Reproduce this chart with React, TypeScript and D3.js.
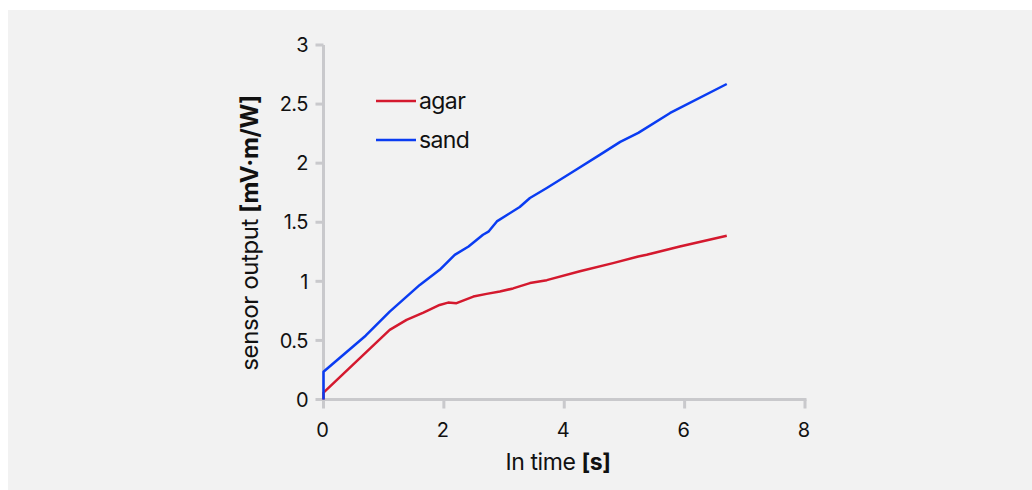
import React from "react";
import * as d3 from "d3";

const agarTime = [0, 0, 1.1, 1.38, 1.66, 1.93, 2.07, 2.21, 2.49, 2.71, 2.93, 3.15, 3.43, 3.71, 4.26, 4.81, 5.23, 5.37, 5.92, 6.7];
const agarValue = [0, 0.058, 0.589, 0.674, 0.736, 0.8, 0.82, 0.815, 0.871, 0.894, 0.914, 0.94, 0.985, 1.01, 1.085, 1.154, 1.21, 1.225, 1.295, 1.386];

const sandTime = [0, 0, 0.7, 1.1, 1.6, 1.93, 2.18, 2.41, 2.65, 2.74, 2.88, 3.26, 3.43, 3.71, 4.15, 4.59, 4.93, 5.23, 5.76, 6.7];
const sandValue = [0, 0.235, 0.54, 0.744, 0.97, 1.097, 1.224, 1.295, 1.394, 1.42, 1.507, 1.629, 1.705, 1.79, 1.93, 2.07, 2.18, 2.256, 2.425, 2.67];

const xTicks = [0, 2, 4, 6, 8];
const yTicks = [0, 0.5, 1, 1.5, 2, 2.5, 3];

const seriesNames = ["agar", "sand"];
const seriesColors = ["#d4192e", "#0a3cf2"];

const FONT = "Inter, 'Noto Sans', sans-serif";

export default function App() {
  const x = d3.scaleLinear().domain([0, 8]).range([323.5, 805]);
  const y = d3.scaleLinear().domain([0, 3]).range([399.5, 45]);
  const line = d3
    .line<[number, number]>()
    .x((d) => x(d[0]))
    .y((d) => y(d[1]));

  const agar: [number, number][] = agarTime.map((t, i) => [t, agarValue[i]]);
  const sand: [number, number][] = sandTime.map((t, i) => [t, sandValue[i]]);
  const series = [agar, sand];

  const axisColor = "#c9c9cc";
  const textColor = "#111";

  return (
    <svg
      width={1032}
      height={490}
      style={{ position: "absolute", left: 0, top: 0, display: "block" }}
      fontFamily={FONT}
    >
      <rect x={0} y={0} width={1032} height={490} fill="#ffffff" />
      <rect x={8} y={10} width={1024} height={480} fill="#f2f2f2" />

      {/* axes */}
      <line x1={x(0)} x2={x(0)} y1={y(3)} y2={y(0)} stroke={axisColor} strokeWidth={3} />
      <line x1={x(0) - 1.5} x2={x(8) + 1.5} y1={y(0)} y2={y(0)} stroke={axisColor} strokeWidth={3} />
      {yTicks.map((t) => (
        <g key={"y" + t}>
          <line x1={x(0) - 8} x2={x(0)} y1={y(t)} y2={y(t)} stroke={axisColor} strokeWidth={3} />
          <text
            x={308}
            y={y(t)}
            dy="0.36em"
            textAnchor="end"
            fontSize={20}
            fill={textColor}
            letterSpacing={-0.5}
          >
            {t}
          </text>
        </g>
      ))}
      {xTicks.map((t) => (
        <g key={"x" + t}>
          <line x1={x(t)} x2={x(t)} y1={y(0)} y2={y(0) + 9} stroke={axisColor} strokeWidth={3} />
          <text x={x(t) - 1} y={437} textAnchor="middle" fontSize={20} fill={textColor}>
            {t}
          </text>
        </g>
      ))}

      {/* axis titles */}
      <text x={558} y={470} textAnchor="middle" fontSize={23} fill={textColor} letterSpacing={-0.4}>
        In time <tspan fontWeight="bold">[s]</tspan>
      </text>
      <text
        transform={`translate(258, 233) rotate(-90)`}
        textAnchor="middle"
        fontSize={24}
        fill={textColor}
        letterSpacing={-0.4}
      >
        sensor output <tspan fontWeight="bold">[mV·m/W]</tspan>
      </text>

      {/* lines */}
      {series.map((s, i) => (
        <path
          key={seriesNames[i]}
          d={line(s) || ""}
          fill="none"
          stroke={seriesColors[i]}
          strokeWidth={2.5}
          strokeLinejoin="round"
        />
      ))}

      {/* legend */}
      {seriesNames.map((n, i) => (
        <g key={"leg" + n}>
          <line x1={376} x2={416} y1={101 + i * 39} y2={101 + i * 39} stroke={seriesColors[i]} strokeWidth={2.5} />
          <text x={419} y={101 + i * 39} dy="0.36em" fontSize={23} fill={textColor} letterSpacing={-0.6}>
            {n}
          </text>
        </g>
      ))}
    </svg>
  );
}
